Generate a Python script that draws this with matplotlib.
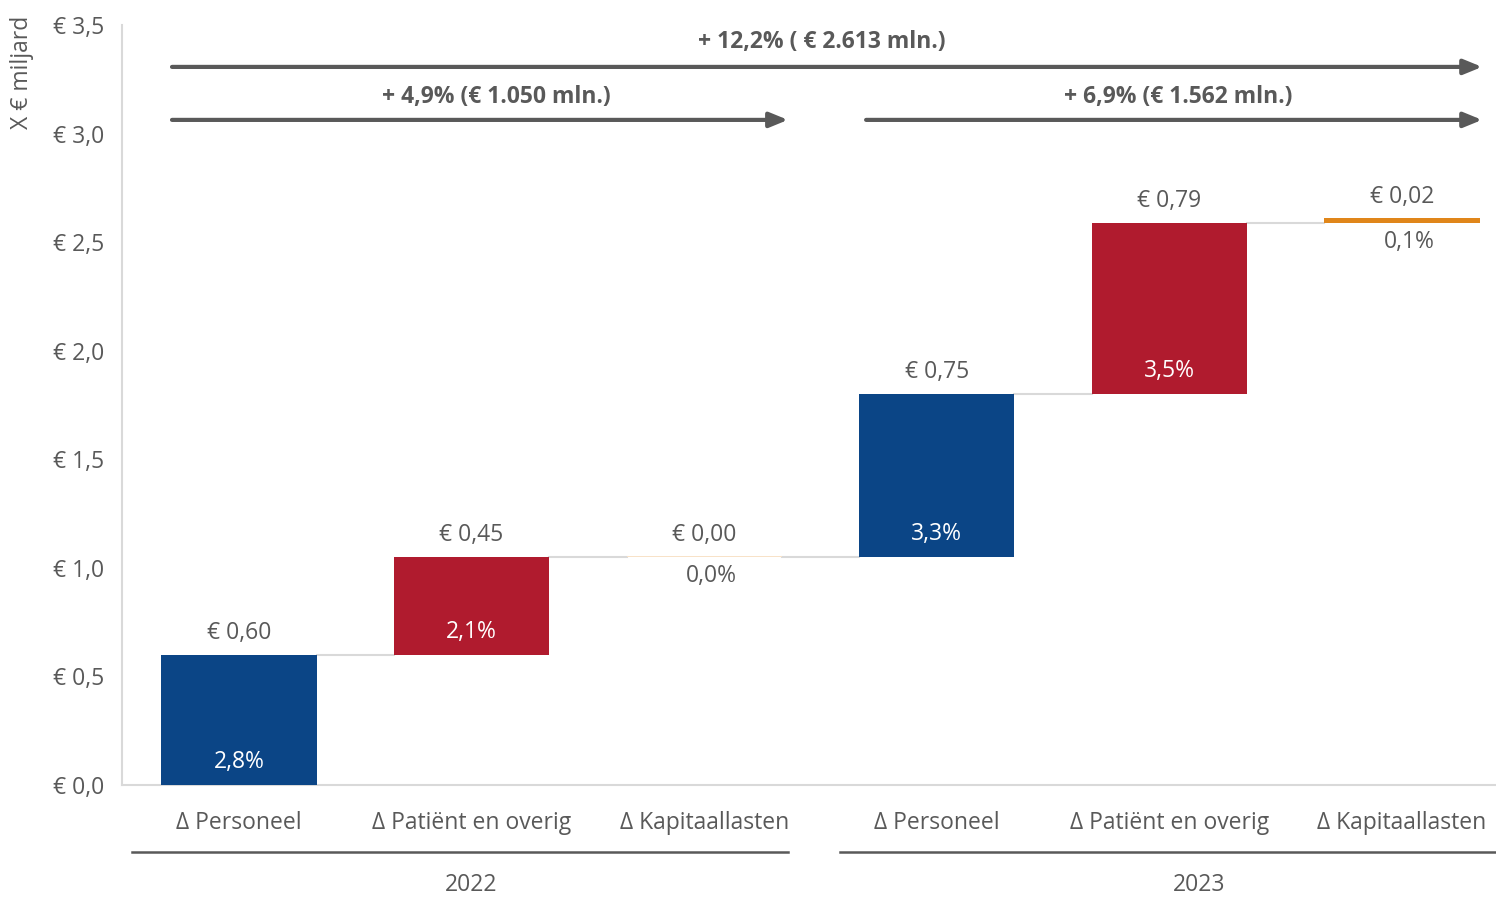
import numpy as np
import matplotlib.pyplot as plt
from matplotlib.ticker import FuncFormatter

plt.rcParams['font.family'] = ['Open Sans', 'DejaVu Sans']

# Data (x € miljard)
categories = ['Δ Personeel', 'Δ Patiënt en overig', 'Δ Kapitaallasten',
              'Δ Personeel', 'Δ Patiënt en overig', 'Δ Kapitaallasten']
deltas = [0.60, 0.45, 0.00, 0.75, 0.79, 0.02]
value_labels = ['€ 0,60', '€ 0,45', '€ 0,00', '€ 0,75', '€ 0,79', '€ 0,02']
pct_labels = ['2,8%', '2,1%', '0,0%', '3,3%', '3,5%', '0,1%']
years = ['2022', '2023']
span_labels = ['+ 12,2% ( € 2.613 mln.)', '+ 4,9% (€ 1.050 mln.)', '+ 6,9% (€ 1.562 mln.)']

BLUE = '#0B4586'
RED = '#B01B2E'
ORANGE = '#E0861A'
PALE = '#F8E2C8'
GREY = '#595959'
LIGHT = '#D9D9D9'
bar_colors = [BLUE, RED, PALE, BLUE, RED, ORANGE]
FS = 16.5

x = np.arange(len(deltas))
tops = np.cumsum(deltas)
bottoms = tops - np.array(deltas)
width = 0.667

fig = plt.figure(figsize=(14.96, 8.97), dpi=100)
ax = fig.add_axes([122 / 1496, 1 - 785 / 897, 1 - 122 / 1496, 760 / 897])

for i in x:
    h = deltas[i] if deltas[i] > 0 else 0.004
    ax.bar(x[i], h, width, bottom=bottoms[i], color=bar_colors[i], zorder=3)

# connector lines between bars
for i in range(len(x) - 1):
    ax.plot([x[i] + width / 2, x[i + 1] - width / 2], [tops[i], tops[i]],
            color=LIGHT, lw=1.5, zorder=2)

# labels on the bars
for i in x:
    ax.annotate(value_labels[i], (x[i], tops[i]), xytext=(0, 7),
                textcoords='offset points', ha='center', va='bottom',
                fontsize=FS, color=GREY)
    if deltas[i] < 0.05:
        ax.annotate(pct_labels[i], (x[i] + 0.03, bottoms[i]), xytext=(0, -5),
                    textcoords='offset points', ha='center', va='top',
                    fontsize=FS, color=GREY)
    else:
        ax.annotate(pct_labels[i], (x[i], bottoms[i]), xytext=(0, 8),
                    textcoords='offset points', ha='center', va='bottom',
                    fontsize=FS, color='white')

ax.set_ylim(0, 3.5)
ax.set_xlim(-0.503, 5.404)
ax.set_yticks(np.arange(0, 3.51, 0.5))
ax.yaxis.set_major_formatter(FuncFormatter(lambda v, p: '€ ' + f'{v:.1f}'.replace('.', ',')))
ax.tick_params(axis='y', length=0, labelsize=FS, labelcolor=GREY, pad=13)
ax.set_xticks(x)
ax.set_xticklabels(categories)
ax.tick_params(axis='x', length=0, labelsize=FS, labelcolor=GREY, pad=19)
for s in ['top', 'right']:
    ax.spines[s].set_visible(False)
for s in ['left', 'bottom']:
    ax.spines[s].set_color(LIGHT)
    ax.spines[s].set_linewidth(1.5)

fig.text(22 / 1496, 1 - 72 / 897, 'X € miljard', rotation=90, ha='center',
         va='center', fontsize=FS, color=GREY)

# year group lines and labels
trans = ax.get_xaxis_transform()
groups = [(-0.46, 2.36), (2.584, 5.404)]
year_x = [1.0, 4.127]
for (g0, g1), yx, yr in zip(groups, year_x, years):
    ax.plot([g0, g1], [-0.088, -0.088], color=GREY, lw=1.8, transform=trans, clip_on=False)
    ax.text(yx, -0.131, yr, transform=trans, ha='center',
            va='center', fontsize=FS, color=GREY)

# growth arrows at the top
arrow_spans = [(-0.288, 5.344, 3.307), (-0.288, 2.360, 3.063), (2.696, 5.344, 3.063)]
text_pos = [(2.506, 3.422), (1.105, 3.168), (4.037, 3.168)]
for (a0, a1, ay), (tx, ty), lab in zip(arrow_spans, text_pos, span_labels):
    ax.annotate('', xy=(a1, ay), xytext=(a0, ay),
                arrowprops=dict(arrowstyle='-|>,head_length=1.1,head_width=0.45',
                                color=GREY, lw=3, shrinkA=0, shrinkB=0),
                annotation_clip=False)
    ax.text(tx, ty, lab, ha='center', va='center', fontsize=FS,
            fontweight='bold', color=GREY)

fig.savefig('out.png', dpi=100)
